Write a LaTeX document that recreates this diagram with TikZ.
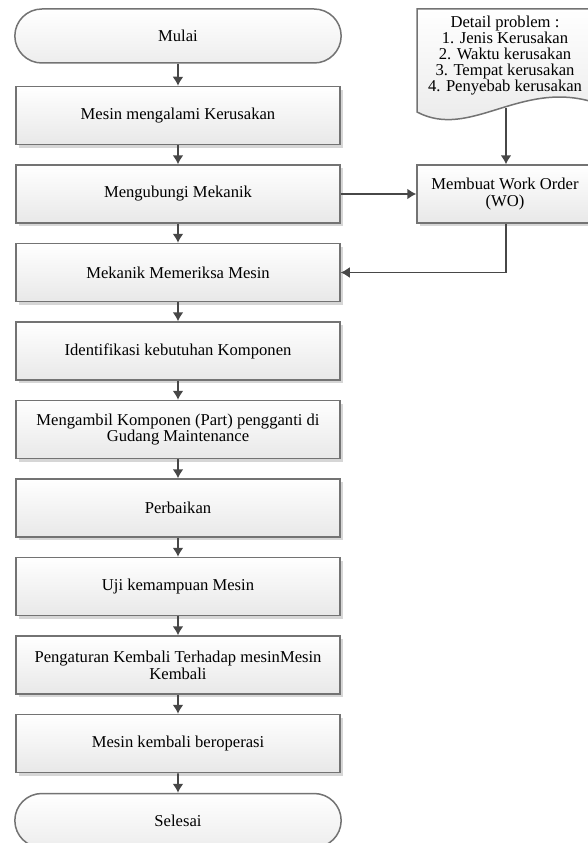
\documentclass[tikz,border=0pt]{standalone}
\usepackage{fontspec}
\setmainfont{Liberation Serif}
\usepackage{tikz}
\usetikzlibrary{calc,arrows.meta,positioning,shapes.misc,shadows}

\begin{document}
\begin{tikzpicture}[>={Latex[length=9pt,width=11pt]}, x=1pt, y=1pt, line/.style={draw=black!72, line width=1.6pt}, border/.style={draw=black!55, line width=1.5pt}, every node/.style={font=\fontsize{16.6}{16.7}\selectfont}]
    % Define styles for blocks, terminators and the document
    \tikzstyle{block} = [rectangle, minimum height=58pt, minimum width=324pt, align=center, top color=white, bottom color=black!9, border, drop shadow={shadow xshift=3pt, shadow yshift=-3pt, fill=black!16, opacity=1}]
    \tikzstyle{terminal} = [rounded rectangle, minimum height=54pt, minimum width=333pt, top color=white, bottom color=black!7, border]
    \tikzstyle{sideblock} = [block, minimum width=176pt]

    \useasboundingbox (0,0) rectangle (588,-843);

    % Nodes placement
    \node [terminal] at (178,-36) (mulai) {Mulai};
    \node [block, below of=mulai, node distance=79.5pt] (rusak) {Mesin mengalami Kerusakan};
    \node [block, below of=rusak, node distance=78.5pt] (hubungi) {Mengubungi Mekanik};
    \node [block, below of=hubungi, node distance=78.5pt] (periksa) {Mekanik Memeriksa Mesin};
    \node [block, below of=periksa, node distance=78.5pt] (identifikasi) {Identifikasi kebutuhan Komponen};
    \node [block, below of=identifikasi, node distance=78.5pt] (ambil) {Mengambil Komponen (Part) pengganti di\\Gudang Maintenance};
    \node [block, below of=ambil, node distance=78.5pt] (perbaikan) {Perbaikan};
    \node [block, below of=perbaikan, node distance=78.5pt] (uji) {Uji kemampuan Mesin};
    \node [block, below of=uji, node distance=78.5pt] (atur) {Pengaturan Kembali Terhadap mesinMesin\\Kembali};
    \node [block, below of=atur, node distance=78.5pt] (operasi) {Mesin kembali beroperasi};
    \node [terminal, below of=operasi, node distance=77pt] (selesai) {Selesai};

    \node [sideblock] at (505,-194) (wo) {Membuat Work Order\\(WO)};

    % Document with the problem details
    \shade [top color=white, bottom color=black!9, border] (417,-9) -- (593,-9) -- (593,-102) .. controls (520,-80) and (470,-140) .. (417,-112) -- cycle;
    \node [above of=wo, node distance=138pt, align=center, font=\fontsize{16.6}{16}\selectfont] (detail) {Detail problem :\\1. Jenis Kerusakan\\2. Waktu kerusakan\\3. Tempat kerusakan\\4. Penyebab kerusakan};
    \coordinate (detailend) at (506,-108);

    % Draw edges
    \foreach \a/\b in {mulai/rusak, rusak/hubungi, hubungi/periksa, periksa/identifikasi, identifikasi/ambil, ambil/perbaikan, perbaikan/uji, uji/atur, atur/operasi, operasi/selesai}
        \draw[line,->] (\a) -- (\b);
    \draw[line,->] (hubungi.east) -- (wo.west);
    \draw[line,->] (detailend) -- (detailend |- wo.north);

    % Work order back to the mechanic
    \draw[line,->] (detailend |- wo.south) |- (periksa.east);
\end{tikzpicture}
\end{document}
